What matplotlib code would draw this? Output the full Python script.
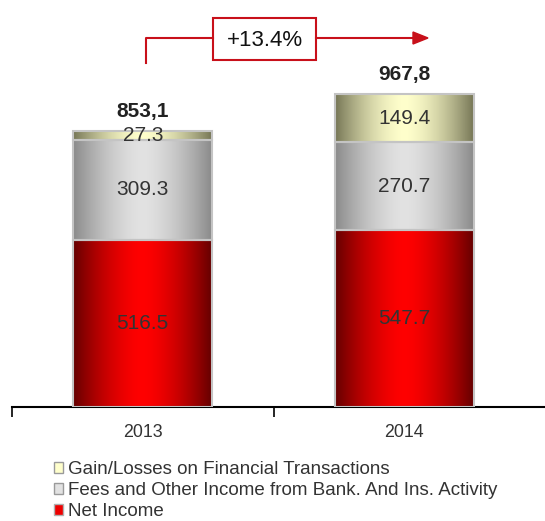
import numpy as np
import matplotlib
matplotlib.use("Agg")
import matplotlib.pyplot as plt
from matplotlib.patches import Patch, Rectangle
from matplotlib.colors import to_rgb

plt.rcParams['font.family'] = ['Liberation Sans', 'DejaVu Sans']

years = ["2013", "2014"]
net_income = [516.5, 547.7]
fees = [309.3, 270.7]
gains = [27.3, 149.4]
totals_label = ["853,1", "967,8"]
growth_label = "+13.4%"
series_names = ["Net Income", "Fees and Other Income from Bank. And Ins. Activity",
                "Gain/Losses on Financial Transactions"]

W, H = 545, 521
fig = plt.figure(figsize=(W / 100, H / 100), dpi=100)
ax_left, ax_right = 12 / W, 545 / W
ax_bottom = 1 - 407 / H
ax_top = 1 - 20 / H
ax = fig.add_axes([ax_left, ax_bottom, ax_right - ax_left, ax_top - ax_bottom])
ymax = (407 - 20) / 0.3235
ax.set_ylim(0, ymax)
ax.set_xlim(-0.5, 1.538)

grad = {
    0: ("#650000", "#ff0000"),
    1: ("#8a8a8a", "#e2e2e2"),
    2: ("#767656", "#ffffcc"),
}

def gradient_img(edge, center, n=256):
    t = np.abs(np.linspace(-1, 1, n))
    t = t ** 1.6
    e = np.array(to_rgb(edge)); c = np.array(to_rgb(center))
    cols = c[None, :] + (e - c)[None, :] * t[:, None]
    return cols[None, :, :]

x = np.arange(len(years))
bw = 0.53
bottoms = np.zeros(len(years))
for si, vals in enumerate([net_income, fees, gains]):
    bars = ax.bar(x, vals, bw, bottom=bottoms, facecolor="none",
                  edgecolor="#c4c4c4", linewidth=1.5, zorder=3)
    for p in bars:
        x0, y0 = p.get_x(), p.get_y()
        img = ax.imshow(gradient_img(*grad[si]), extent=[x0, x0 + p.get_width(), y0, y0 + p.get_height()],
                        aspect="auto", zorder=2, interpolation="bilinear")
        img.set_clip_path(p)
    for xi, v, b in zip(x, vals, bottoms):
        ax.text(xi, b + v / 2, f"{v:.1f}", ha="center", va="center", fontsize=15,
                color="#333333", zorder=5)
    bottoms = bottoms + np.array(vals)

for xi, tot, lab in zip(x, bottoms, totals_label):
    ax.text(xi, tot + 30, lab, ha="center", va="bottom", fontsize=15, fontweight="bold",
            color="#222222", zorder=5)

ax.set_xticks([-0.5, 0.5], minor=False)
ax.set_xticklabels(["", ""])
ax.set_xticks(x, minor=True)
ax.set_xticklabels(years, minor=True, fontsize=12.8, color="#333333")
ax.tick_params(axis="x", which="major", length=7, width=1.2, color="black", direction="out")
ax.tick_params(axis="x", which="minor", length=0, pad=12)
ax.set_yticks([])
for s in ["left", "right", "top"]:
    ax.spines[s].set_visible(False)
ax.spines["bottom"].set_linewidth(1.5)
ax.spines["bottom"].set_color("black")

# growth arrow (figure pixel coords)
red = "#c8101a"
def fx(px): return px / W
def fy(py): return 1 - py / H
fig.add_artist(plt.Line2D([fx(146), fx(146), fx(213)], [fy(63), fy(38), fy(38)],
                          color=red, linewidth=1.5))
fig.add_artist(plt.Line2D([fx(316), fx(415)], [fy(38), fy(38)], color=red, linewidth=1.5))
fig.patches.append(plt.Polygon([[fx(413), fy(32)], [fx(428), fy(38)], [fx(413), fy(44)]],
                               closed=True, color=red, transform=fig.transFigure))
fig.patches.append(Rectangle((fx(213), fy(60)), fx(316) - fx(213), fy(18) - fy(60),
                             facecolor="white", edgecolor=red, linewidth=1.5,
                             transform=fig.transFigure))
fig.text(fx(264.5), fy(40), growth_label, ha="center", va="center", fontsize=16, color="#111111")

handles = [Patch(facecolor=grad[i][1], edgecolor="#9a9a9a", linewidth=1.0) for i in [2, 1, 0]]
handles[2] = Patch(facecolor="#ee0000", edgecolor="#b0b0b0", linewidth=1.0)
leg = fig.legend(handles, [series_names[2], series_names[1], series_names[0]],
                 loc="upper left", bbox_to_anchor=(fx(54), fy(461)), frameon=False,
                 fontsize=13.5, handlelength=0.5, handleheight=0.5, handletextpad=0.22,
                 labelspacing=0.22, borderpad=0, borderaxespad=0)
for t in leg.get_texts():
    t.set_color("#333333")

fig.savefig("out.png", dpi=100)
